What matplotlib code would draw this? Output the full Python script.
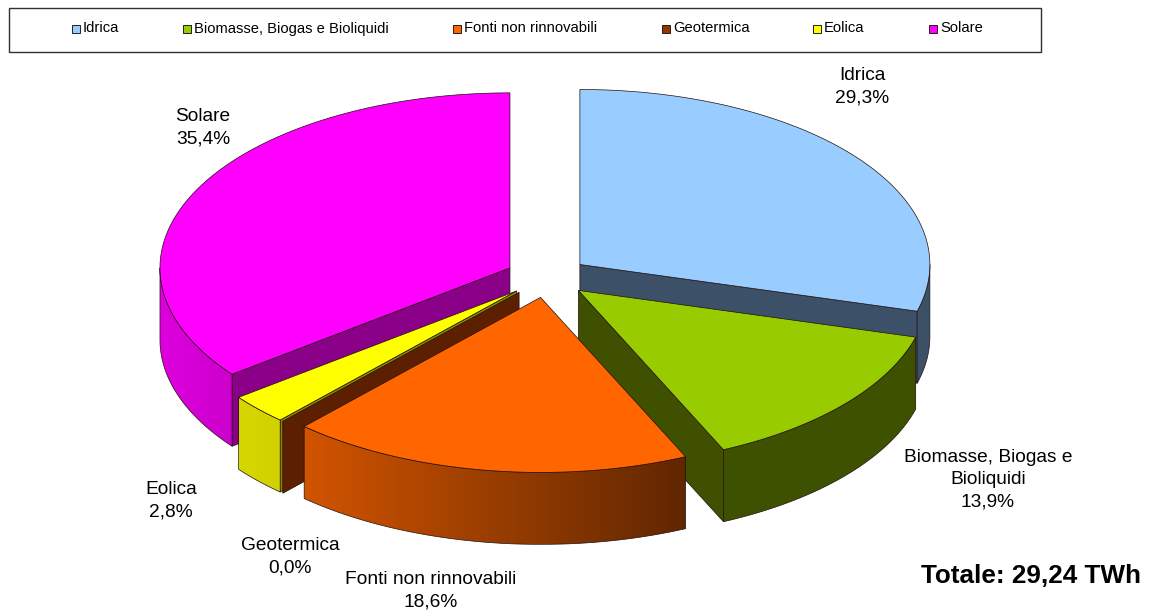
import numpy as np
import matplotlib
matplotlib.use("Agg")
import matplotlib.pyplot as plt
from matplotlib.patches import Rectangle, Polygon

plt.rcParams['font.family'] = ['Liberation Sans', 'DejaVu Sans']

# --- data
categories = ['Idrica', 'Biomasse, Biogas e Bioliquidi', 'Fonti non rinnovabili',
              'Geotermica', 'Eolica', 'Solare']
values = [29.3, 13.9, 18.6, 0.0, 2.8, 35.4]
value_labels = ['29,3%', '13,9%', '18,6%', '0,0%', '2,8%', '35,4%']
total_label = 'Totale: 29,24 TWh'

# --- styles and layout
top_colors = ['#99CCFF', '#99CC00', '#FF6600', '#993300', '#FFFF00', '#FF00FF']
cut_colors = ['#3C5068', '#3F5000', '#5C2000', '#5C2000', '#8A8A00', '#8A0088']
wall_shades = [(.40, .40), (.40, .40), (.82, .38), (.60, .60), (.84, .82), (.87, .80)]
label_xy = [(862, 87), (988, 480), (431, 591), (290, 557), (171, 501), (203, 128)]
label_text = ['Idrica', 'Biomasse, Biogas e\nBioliquidi', 'Fonti non rinnovabili',
              'Geotermica', 'Eolica', 'Solare']
legend_x = [72, 183, 453, 662, 813, 929]
CX, CY, RX, RY, DEPTH, EXPLODE = 547, 277, 350, 175, 72, 0.118
draw_order = [5, 0, 4, 3, 1, 2]   # painter's order, back to front

fig = plt.figure(figsize=(11.53, 6.12), dpi=100)
ax = fig.add_axes([0, 0, 1, 1])
ax.axis('off')

fractions = np.array(values) / sum(values)
edges = np.concatenate([[0], np.cumsum(fractions) * 360])
EDGE = dict(edgecolor='#201010', linewidth=0.5)


def rgb(c):
    return np.array(matplotlib.colors.to_rgb(c))


for z, i in enumerate(draw_order):
    a0, a1 = edges[i], edges[i + 1]
    mid = np.radians((a0 + a1) / 2)
    ox = CX + EXPLODE * RX * np.sin(mid)
    oy = CY - EXPLODE * RY * np.cos(mid)
    pt = lambda deg: (ox + RX * np.sin(np.radians(deg)), oy - RY * np.cos(np.radians(deg)))
    base = z * 10 + 2

    # cut faces facing the viewer (below the top surface)
    face_angles = {0: [a1], 1: [a1], 3: [a0], 4: [a0], 5: [a0]}.get(i, [])
    for ang in face_angles:
        px, py = pt(ang)
        ax.add_patch(Polygon([(ox, oy), (px, py), (px, py + DEPTH), (ox, oy + DEPTH)],
                             closed=True, facecolor=cut_colors[i], zorder=base, **EDGE))

    # outer wall, shaded from left to right
    w0, w1 = max(a0, 90), min(a1, 270)
    if w1 > w0:
        th = np.linspace(w0, w1, 120)
        xs, ys = (np.array(v) for v in zip(*[pt(t) for t in th]))
        outline = list(zip(xs, ys)) + list(zip(xs[::-1], ys[::-1] + DEPTH))
        poly = Polygon(outline, closed=True, facecolor='none', zorder=base + 2, **EDGE)
        ax.add_patch(poly)
        ramp = np.linspace(wall_shades[i][0], wall_shades[i][1], 256)[:, None]
        img = (ramp * rgb(top_colors[i])[None, :])[None, :, :]
        im = ax.imshow(img, extent=(xs.min(), xs.max(), ys.max() + DEPTH, ys.min()),
                       aspect='auto', interpolation='bilinear', zorder=base + 1)
        im.set_clip_path(poly)

    # top surface
    if a1 > a0:
        th = np.linspace(a0, a1, 160)
        top = [(ox, oy)] + [pt(t) for t in th]
        ax.add_patch(Polygon(top, closed=True, facecolor=top_colors[i], zorder=base + 3, **EDGE))

ax.set_xlim(0, 1153)
ax.set_ylim(612, 0)

# data labels
for name, val, (x, y) in zip(label_text, value_labels, label_xy):
    ax.text(x, y, f'{name}\n{val}', ha='center', va='center', fontsize=13.8,
            linespacing=1.39, color='black', zorder=200)

# total
ax.text(1141, 576, total_label, ha='right', va='center', fontsize=18.8,
        fontweight='bold', color='black', zorder=200)

# legend box
ax.add_patch(Rectangle((8.5, 7.5), 1032, 44, facecolor='white', edgecolor='#303030',
                       linewidth=1.0, zorder=100))
for name, col, x in zip(categories, top_colors, legend_x):
    ax.add_patch(Rectangle((x, 24.5), 8, 8, facecolor=col, edgecolor='#202020',
                           linewidth=0.7, zorder=101))
    ax.text(x + 11, 28.5, name, ha='left', va='center', fontsize=10.6, color='black', zorder=102)

fig.savefig('out.png', dpi=100, facecolor='white')
